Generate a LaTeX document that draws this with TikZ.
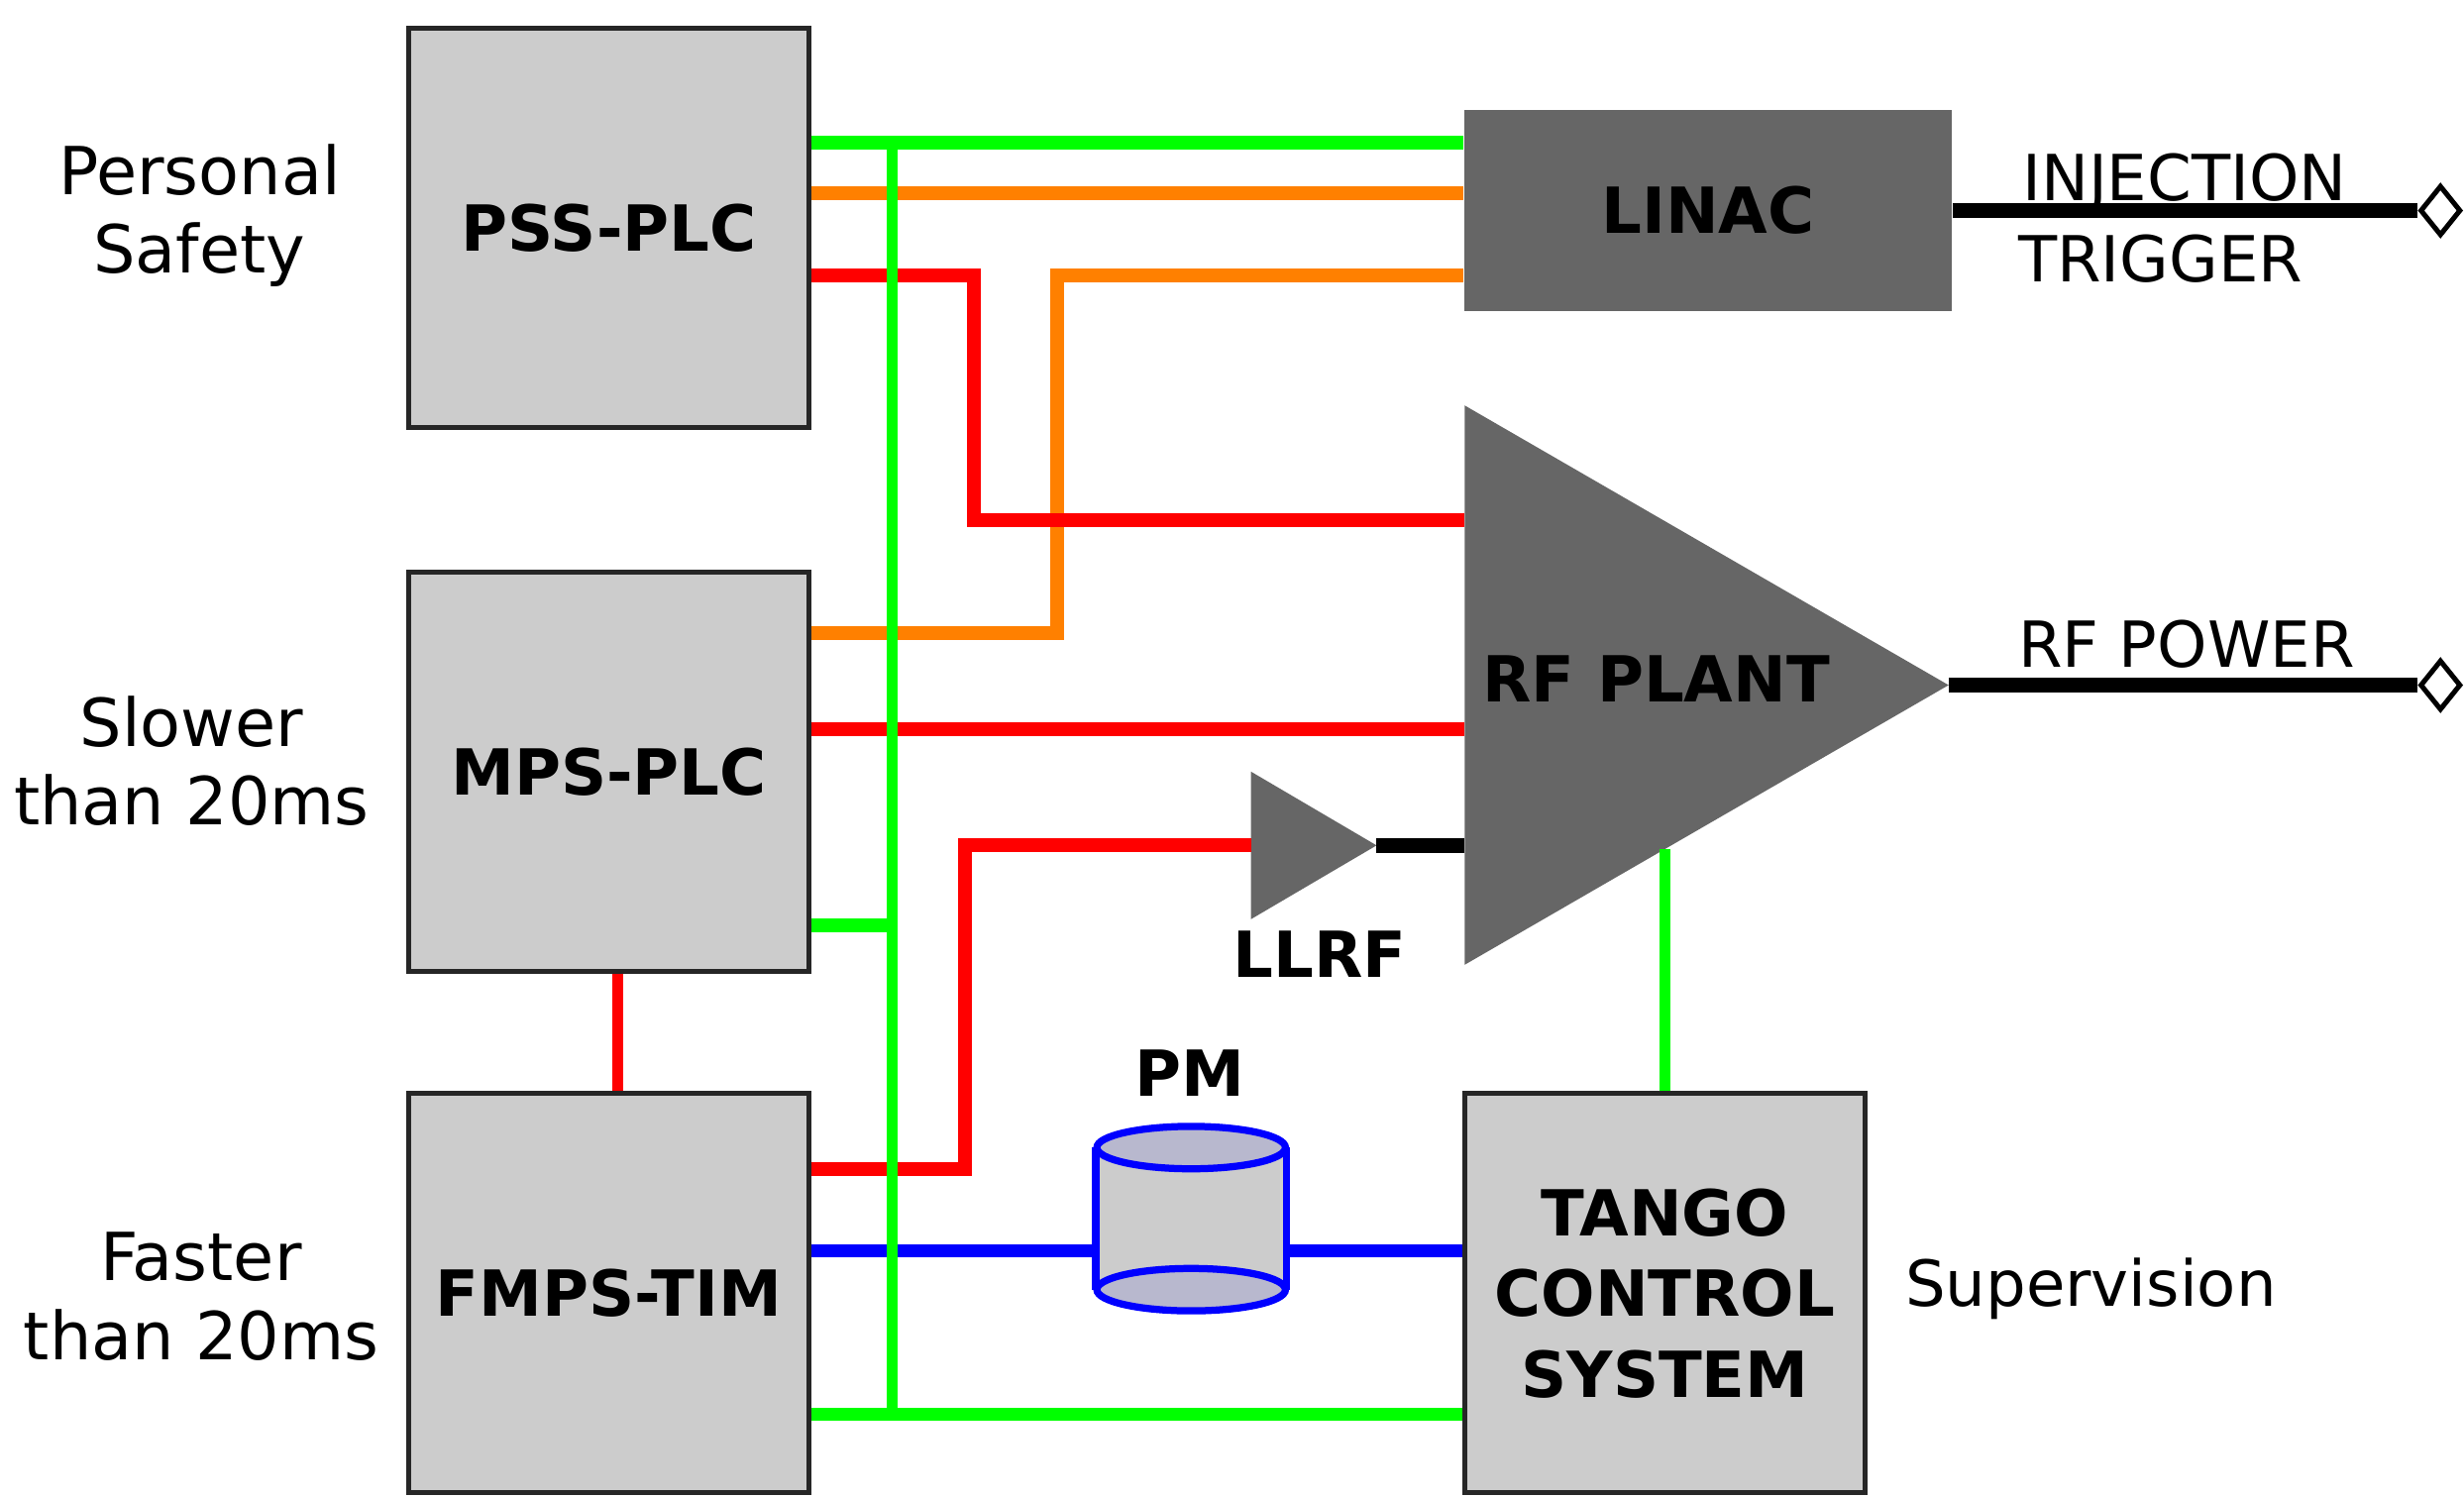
\documentclass[tikz,border=0pt]{standalone}
\usepackage{fontspec}
\setmainfont{DejaVu Sans}
\usetikzlibrary{shapes.geometric,calc}
\definecolor{boxgray}{HTML}{CCCCCC}
\definecolor{plantgray}{HTML}{666666}
\definecolor{busgreen}{HTML}{00FF00}
\definecolor{wireorange}{HTML}{FF8000}
\definecolor{pmfill}{HTML}{B8B8CE}

\tikzset{
  unit/.style={draw=black!85, line width=0.9pt, fill=boxgray, minimum width=2.55cm,
    minimum height=2.54cm, inner sep=0pt, align=center,
    font=\fontsize{11.5}{14.6}\selectfont\bfseries},
  plant/.style={fill=plantgray, minimum width=3.1cm, minimum height=1.28cm,
    font=\fontsize{11.5}{14}\selectfont\bfseries},
  side/.style={align=center, font=\fontsize{12}{14.2}\selectfont},
  note/.style={font=\fontsize{11.5}{14}\selectfont},
  tag/.style={font=\fontsize{11.5}{14}\selectfont\bfseries},
  port/.style={diamond, draw=black, line width=0.9pt, fill=white, inner sep=0pt,
    minimum width=0.26cm, minimum height=0.32cm},
  gwire/.style={busgreen, line width=2.5pt},
  gbus/.style={busgreen, line width=2pt},
  owire/.style={wireorange, line width=2.5pt},
  rwire/.style={red, line width=2.5pt},
  bwire/.style={blue, line width=2.5pt},
  kwire/.style={black, line width=2.7pt}
}

\begin{document}
\begin{tikzpicture}
\useasboundingbox (0,0) rectangle (15.68,9.53);

% interlock units
\node[unit] (pss) at (3.875,8.08) {PSS-PLC};
\node[unit] (mps) at (3.875,4.62) {MPS-PLC};
\node[unit] (fmps) at (3.875,1.30) {FMPS-TIM};
\node[unit] (tango) at (10.595,1.30) {TANGO\\CONTROL\\SYSTEM};
\node[plant] (linac) at (10.87,8.19) {LINAC};

% RF plant and LLRF amplifiers
\coordinate (rftop) at (9.32,6.95);
\coordinate (rfbot) at (9.32,3.39);
\coordinate (rftip) at (12.40,5.17);
\fill[plantgray] (rftop) -- (rftip) -- (rfbot) -- cycle;
\node[tag] (rftext) at (10.54,5.21) {RF PLANT};
\coordinate (llrftop) at (7.96,4.62);
\coordinate (llrfbot) at (7.96,3.68);
\coordinate (llrftip) at (8.76,4.15);
\fill[plantgray] (llrftop) -- (llrftip) -- (llrfbot) -- cycle;
\node[tag] (llrf) at (8.40,3.46) {LLRF};

% side labels
\node[side] (safety) at (1.27,8.16) {Personal\\Safety};
\node[side] (slow) at (1.22,4.69) {Slower\\than 20ms};
\node[side] (fast) at (1.28,1.28) {Faster\\than 20ms};
\node[note, anchor=west] (superv) at (12.0,1.33) {Supervision};

% outputs
\node[port] (injend) at (15.53,8.19) {};
\node[port] (rfend) at (15.53,5.17) {};
\draw[kwire] (linac.east) -- (injend.west);
\draw[kwire] (rftip) -- (rfend.west);
\node[note, anchor=base west] (inj) at (12.745,8.256) {INJECTION};
\node[note, anchor=base west] (trig) at (12.72,7.733) {TRIGGER};
\node[note, anchor=base west] (rfpow) at (12.72,5.282) {RF POWER};
\draw[kwire] (llrftip) -- (rftop |- llrftip);

% orange links
\draw[owire] (pss.east |- 0,8.30) -- (linac.west |- 0,8.30);
\draw[owire] (mps.east |- 0,5.50) -| (6.73,7.78) -- (linac.west |- 0,7.78);

% red links
\draw[rwire] (pss.east |- 0,7.78) -| (6.20,6.22) -- (rftop |- 0,6.22);
\draw[rwire] (mps.east |- 0,4.89) -- (rftop |- 0,4.89);
\draw[rwire] (fmps.east |- 0,2.09) -| (6.14,4.15) -- (llrftop |- llrftip);
\draw[red, line width=2pt] (mps.south -| 3.93,0) -- (fmps.north -| 3.93,0);

% post mortem buffer
\node[minimum width=1.2cm, minimum height=0.89cm, inner sep=0pt] (pm) at (7.58,1.775) {};
\draw[bwire] (fmps.east |- 0,1.57) -- (pm.west |- 0,1.57);
\draw[bwire] (pm.east |- 0,1.57) -- (tango.west |- 0,1.57);
\fill[boxgray] (pm.north west) rectangle (pm.south east);
\draw[blue, line width=1.3pt] (pm.north west) -- (pm.south west) (pm.north east) -- (pm.south east);
\draw[blue, line width=1.3pt, fill=pmfill] (pm.north) ellipse [x radius=0.6cm, y radius=0.135cm];
\draw[blue, line width=1.3pt, fill=pmfill] (pm.south) ellipse [x radius=0.6cm, y radius=0.135cm];
\node[tag] (pmlabel) at (7.57,2.70) {PM};

% green supervision bus
\coordinate (bustop) at (5.68,8.62);
\coordinate (busbot) at (5.68,0.53);
\coordinate (rfedge) at ($(rfbot)!0.414!(rftip)$);
\draw[gwire] (pss.east |- bustop) -- (linac.west |- bustop);
\draw[gwire] (fmps.east |- busbot) -- (tango.west |- busbot);
\draw[gwire] (mps.east |- 0,3.64) -- (bustop |- 0,3.64);
\draw[gbus] (bustop) -- (busbot);
\draw[gbus] (tango.north) -- (tango.north |- rfedge);
\end{tikzpicture}
\end{document}
